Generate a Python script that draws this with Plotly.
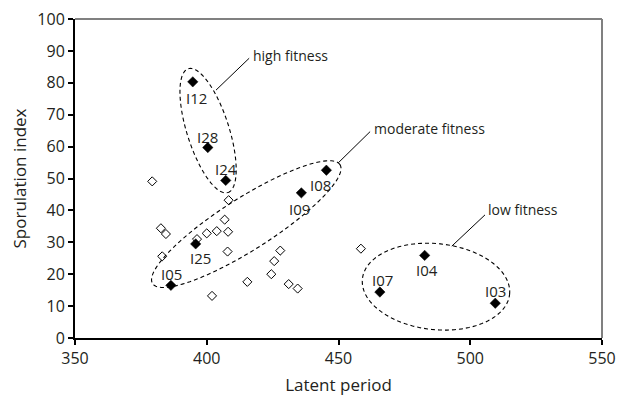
import numpy as np
import plotly.graph_objects as go

# ---- data ----
named_x = [394.7, 400.4, 407.2, 445.4, 435.9, 395.8, 386.4, 482.7, 465.7, 509.5]
named_y = [80.3, 59.7, 49.4, 52.6, 45.5, 29.5, 16.5, 25.9, 14.4, 10.9]
named_labels = ["I12", "I28", "I24", "I08", "I09", "I25", "I05", "I04", "I07", "I03"]

other_x = [379.3, 408.3, 406.8, 382.6, 384.5, 400.0, 403.8, 408.1, 396.3, 383.1,
           407.9, 427.9, 425.6, 424.5, 415.4, 431.1, 434.5, 402.0, 458.5]
other_y = [49.1, 43.2, 37.1, 34.4, 32.6, 32.8, 33.5, 33.3, 31.0, 25.6,
           27.1, 27.4, 24.1, 20.0, 17.6, 16.9, 15.5, 13.2, 28.0]

group_names = ["high fitness", "moderate fitness", "low fitness"]

x_ticks = [350, 400, 450, 500, 550]
y_ticks = [0, 10, 20, 30, 40, 50, 60, 70, 80, 90, 100]

# ---- layout geometry ----
W, H = 619, 396
ML, MR, MT, MB = 75, 17, 19, 58
XR = (350, 550)
YR = (0, 100)
kx = (W - ML - MR) / (XR[1] - XR[0])   # px per x unit
ky = (H - MT - MB) / (YR[1] - YR[0])   # px per y unit

FONT = "Open Sans"
TXT = "#231f20"

fig = go.Figure()
fig.add_trace(go.Scatter(
    x=other_x, y=other_y, mode="markers",
    marker=dict(symbol="diamond", size=7, color="white",
                line=dict(color="black", width=1)),
    showlegend=False, hoverinfo="skip"))
fig.add_trace(go.Scatter(
    x=named_x, y=named_y, mode="markers",
    marker=dict(symbol="diamond", size=8, color="black",
                line=dict(color="black", width=0.5)),
    showlegend=False, hoverinfo="skip"))

# point labels: (xshift, yshift) in px
label_offsets = {
    "I12": (4, -16), "I28": (0, 11), "I24": (0, 11), "I08": (-6, -15),
    "I09": (-2, -16), "I25": (5, -14), "I05": (1, 11), "I04": (2, -15),
    "I07": (3, 12), "I03": (0, 12),
}
annotations = []
for xv, yv, lab in zip(named_x, named_y, named_labels):
    dx, dy = label_offsets[lab]
    annotations.append(dict(x=xv, y=yv, text=lab, showarrow=False,
                            xshift=dx, yshift=dy, xanchor="center", yanchor="middle",
                            font=dict(family=FONT, size=15, color=TXT)))

# ellipses: centre (data), semi-axes (px), angle (deg, ccw)
ellipses = [
    ((400.5, 65.0), 65, 21, -72.3),
    ((415.0, 35.7), 111, 26, 32.4),
    ((487.0, 16.1), 74, 43, -6.0),
]
shapes = []
t = np.linspace(0, 2 * np.pi, 121)
for (cx, cy), a, b, ang in ellipses:
    th = np.radians(ang)
    u, v = a * np.cos(t), b * np.sin(t)
    dx = u * np.cos(th) - v * np.sin(th)
    dy = u * np.sin(th) + v * np.cos(th)
    xs = cx + dx / kx
    ys = cy + dy / ky
    path = "M " + " L ".join(f"{xx:.3f},{yy:.3f}" for xx, yy in zip(xs, ys)) + " Z"
    shapes.append(dict(type="path", path=path, xref="x", yref="y",
                       line=dict(color="black", width=1.1, dash="4px,3px")))

# leader lines and group labels (data coords)
leaders = [
    ((403.5, 77.7), (416.1, 87.7), (416.8, 88.7)),
    ((449.9, 54.9), (462.0, 64.7), (462.8, 65.8)),
    ((493.0, 28.8), (505.6, 38.6), (506.0, 40.3)),
]
for name, (p0, p1, tp) in zip(group_names, leaders):
    shapes.append(dict(type="line", xref="x", yref="y", x0=p0[0], y0=p0[1],
                       x1=p1[0], y1=p1[1], line=dict(color="black", width=1)))
    annotations.append(dict(x=tp[0], y=tp[1], text=name, showarrow=False,
                            xanchor="left", yanchor="middle",
                            font=dict(family=FONT, size=14, color=TXT)))

# top and right frame lines
shapes.append(dict(type="line", xref="paper", yref="paper", x0=0, x1=1, y0=1, y1=1,
                   line=dict(color="#808080", width=2)))
shapes.append(dict(type="line", xref="paper", yref="paper", x0=1, x1=1, y0=0, y1=1,
                   line=dict(color="#808080", width=2)))

axis_common = dict(showgrid=False, zeroline=False, showline=True, linecolor="black",
                   linewidth=2, ticks="outside", ticklen=5, tickwidth=1.5,
                   tickcolor="black", automargin=False,
                   tickfont=dict(family=FONT, size=16, color=TXT))

fig.update_layout(
    width=W, height=H,
    margin=dict(l=ML, r=MR, t=MT, b=MB),
    paper_bgcolor="white", plot_bgcolor="white",
    xaxis=dict(range=list(XR), tickvals=x_ticks, **axis_common,
               title=dict(text="Latent period", standoff=12,
                          font=dict(family=FONT, size=17, color=TXT))),
    yaxis=dict(range=list(YR), tickvals=y_ticks, **axis_common,
               title=dict(text="Sporulation index", standoff=6,
                          font=dict(family=FONT, size=17, color=TXT))),
    shapes=shapes, annotations=annotations,
)
fig.write_html("out.html")
